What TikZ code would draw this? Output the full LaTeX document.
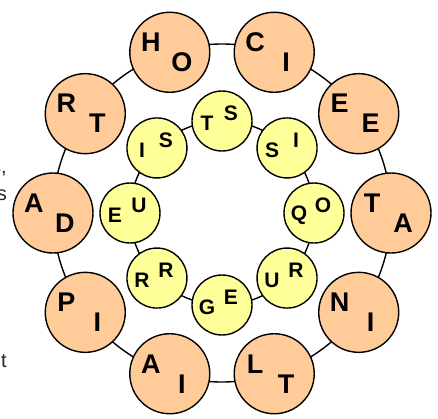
\documentclass[tikz,border=0pt]{standalone}
\usepackage{fontspec}
\setmainfont{Liberation Sans}
\usetikzlibrary{positioning, backgrounds}

\definecolor{peach}{HTML}{FFCC99}
\definecolor{lemon}{HTML}{FFFF99}

\tikzset{
  ring/.style={draw=black, line width=1.4pt},
  outer/.style={circle, draw=black, line width=1.4pt, fill=peach,
                minimum size=80pt, inner sep=0pt},
  inner/.style={circle, draw=black, line width=1.4pt, fill=lemon,
                minimum size=60pt, inner sep=0pt},
  oA/.style={font=\fontsize{27}{27}\selectfont\bfseries, inner sep=0pt,
             xshift=-19pt, yshift=10pt},
  oB/.style={font=\fontsize{27}{27}\selectfont\bfseries, inner sep=0pt,
             xshift=12pt, yshift=-10pt},
  iA/.style={font=\fontsize{21}{21}\selectfont\bfseries, inner sep=0pt,
             xshift=-15pt, yshift=-2pt},
  iB/.style={font=\fontsize{21}{21}\selectfont\bfseries, inner sep=0pt,
             xshift=9pt, yshift=8pt},
  frag/.style={font=\fontsize{20}{20}\selectfont, text=black!85,
               inner sep=0pt, anchor=base east},
}

\begin{document}
\begin{tikzpicture}[x=1pt, y=1pt]

  \useasboundingbox (-222,-205) rectangle (216,213);

  \def\R{169}
  \def\r{92}

  % rings behind the circles
  \draw[ring] (0,0) circle (\R);
  \draw[ring] (0,0) circle (\r);

  % outer ring
  \node[outer] (ta) at (0:\R) {};
  \node[oA] (ta1) at (ta) {T}; \node[oB] (ta2) at (ta) {A};
  \node[outer] (ee) at (36:\R) {};
  \node[oA] (ee1) at (ee) {E}; \node[oB] (ee2) at (ee) {E};
  \node[outer] (ci) at (72:\R) {};
  \node[oA] (ci1) at (ci) {C}; \node[oB] (ci2) at (ci) {I};
  \node[outer] (ho) at (108:\R) {};
  \node[oA] (ho1) at (ho) {H}; \node[oB] (ho2) at (ho) {O};
  \node[outer] (rt) at (144:\R) {};
  \node[oA] (rt1) at (rt) {R}; \node[oB] (rt2) at (rt) {T};
  \node[outer] (ad) at (180:\R) {};
  \node[oA] (ad1) at (ad) {A}; \node[oB] (ad2) at (ad) {D};
  \node[outer] (pi) at (216:\R) {};
  \node[oA] (pi1) at (pi) {P}; \node[oB] (pi2) at (pi) {I};
  \node[outer] (ai) at (252:\R) {};
  \node[oA] (ai1) at (ai) {A}; \node[oB] (ai2) at (ai) {I};
  \node[outer] (lt) at (288:\R) {};
  \node[oA] (lt1) at (lt) {L}; \node[oB] (lt2) at (lt) {T};
  \node[outer] (ni) at (324:\R) {};
  \node[oA] (ni1) at (ni) {N}; \node[oB] (ni2) at (ni) {I};

  % inner ring
  \node[inner] (qo) at (0:\r) {};
  \node[iA] (qo1) at (qo) {Q}; \node[iB] (qo2) at (qo) {O};
  \node[inner] (si) at (45:\r) {};
  \node[iA] (si1) at (si) {S}; \node[iB] (si2) at (si) {I};
  \node[inner] (ts) at (90:\r) {};
  \node[iA] (ts1) at (ts) {T}; \node[iB] (ts2) at (ts) {S};
  \node[inner] (is) at (135:\r) {};
  \node[iA] (is1) at (is) {I}; \node[iB] (is2) at (is) {S};
  \node[inner] (eu) at (180:\r) {};
  \node[iA] (eu1) at (eu) {E}; \node[iB] (eu2) at (eu) {U};
  \node[inner] (rr) at (225:\r) {};
  \node[iA] (rr1) at (rr) {R}; \node[iB] (rr2) at (rr) {R};
  \node[inner] (ge) at (270:\r) {};
  \node[iA] (ge1) at (ge) {G}; \node[iB] (ge2) at (ge) {E};
  \node[inner] (ur) at (315:\r) {};
  \node[iA] (ur1) at (ur) {U}; \node[iB] (ur2) at (ur) {R};

  % cut-off text at the left edge
  \node[frag] (fragA) at (-215,40) {s,};
  \node[frag] (fragB) at (-215,13) {s};
  \node[frag] (fragC) at (-215,-154) {t};

\end{tikzpicture}
\end{document}
